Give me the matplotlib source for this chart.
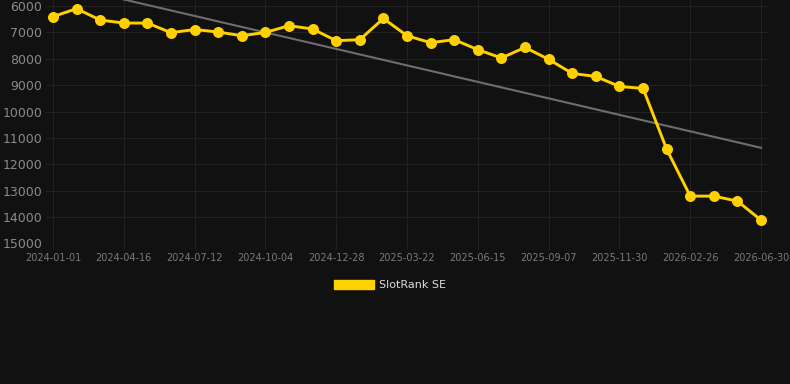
import matplotlib
matplotlib.use("agg")
import matplotlib.pyplot as plt
import numpy as np
from matplotlib.patches import Patch

# --- data ---
rank = [6400, 6100, 6530, 6645, 6645, 7010, 6890, 6985, 7125, 7000,
        6745, 6870, 7315, 7275, 6470, 7125, 7390, 7275, 7655, 7970,
        7570, 8020, 8555, 8670, 9050, 9125, 11425, 13210, 13210, 13400, 14120]
tick_labels = ["2024-01-01", "2024-04-16", "2024-07-12", "2024-10-04",
               "2024-12-28", "2025-03-22", "2025-06-15", "2025-09-07",
               "2025-11-30", "2026-02-26", "2026-06-30"]
y_ticks = [6000, 7000, 8000, 9000, 10000, 11000, 12000, 13000, 14000, 15000]
series_name = "SlotRank SE"

BG = "#111111"
YELLOW = "#FFD100"
GRID = "#222222"

x = np.arange(len(rank))
trend = np.polyval(np.polyfit(x, rank, 1), x)

fig = plt.figure(figsize=(7.9, 3.84), dpi=100, facecolor=BG)
W, H = 790, 384
left, right, top, bottom = 45.9, 768.1, 0, 243.3
ax = fig.add_axes([left / W, 1 - bottom / H, (right - left) / W, (bottom - top) / H])
ax.set_facecolor(BG)

ax.plot(x, trend, color="#6e6e6e", lw=1.5, zorder=2)
ax.plot(x, rank, color=YELLOW, lw=2.1, marker="o", markersize=6.9,
        zorder=3, clip_on=False)

ax.set_xlim(-0.3, len(rank) - 1 + 0.3)
ax.set_ylim(15000, 5770)
ax.set_yticks(y_ticks)
ax.set_yticklabels([str(v) for v in y_ticks])
ax.set_xticks(x[::3])
ax.set_xticklabels(tick_labels)

ax.grid(True, color=GRID, lw=0.8)
ax.set_axisbelow(True)
for s in ax.spines.values():
    s.set_visible(False)
ax.tick_params(axis="y", length=0, pad=2.5, labelsize=9, labelcolor="#8a8a8a")
ax.tick_params(axis="x", length=4, color=GRID, pad=3, labelsize=7, labelcolor="#7a7a7a")

fig.legend(handles=[Patch(facecolor=YELLOW, edgecolor=YELLOW, label=series_name)],
           loc="center", bbox_to_anchor=(0.5 - 5 / W, 1 - 285 / H), frameon=False,
           fontsize=8, labelcolor="#dddddd", handlelength=3.6, handleheight=0.9,
           handletextpad=0.5)

fig.savefig("out.png", dpi=100, facecolor=BG)
